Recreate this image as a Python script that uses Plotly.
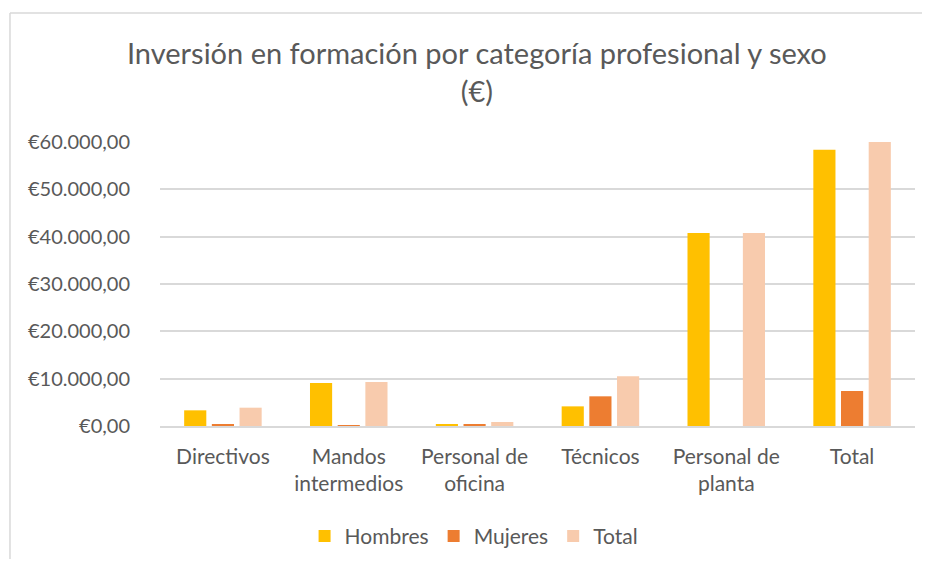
import plotly.graph_objects as go

# Data
categorias = ["Directivos", "Mandos<br>intermedios", "Personal de<br>oficina",
              "Técnicos", "Personal de<br>planta", "Total"]
hombres = [3310, 9090, 350, 4150, 40780, 58380]
mujeres = [420, 200, 420, 6270, 0, 7390]
total = [3870, 9300, 850, 10490, 40780, 65770]

COLORS = {"Hombres": "#FFC000", "Mujeres": "#ED7D31", "Total": "#F8CBAD"}
FONT = "Lato, 'Open Sans', sans-serif"
GRAY_TXT = "#595959"
GRID = "#D9D9D9"

fig = go.Figure()
for name, values in [("Hombres", hombres), ("Mujeres", mujeres), ("Total", total)]:
    fig.add_trace(go.Bar(
        x=categorias,
        y=values,
        name=name,
        marker=dict(color=COLORS[name], line=dict(width=0)),
    ))

# Chart-area border: only the top and left edges are inside the picture
border = dict(type="line", xref="paper", yref="paper",
              line=dict(color=GRID, width=1.5), layer="below")
fig.add_shape(x0=-0.1987, x1=1.3, y0=1.454, y1=1.454, **border)
fig.add_shape(x0=-0.1987, x1=-0.1987, y0=-0.7, y1=1.454, **border)

# page body has an 8px margin, so the figure is sized to fit inside the window
fig.update_layout(
    width=914,
    height=551,
    margin=dict(l=152, r=7, t=134, b=133, autoexpand=False),
    paper_bgcolor="white",
    plot_bgcolor="white",
    separators=",.",
    barmode="group",
    bargap=0.34,
    bargroupgap=0.2,
    font=dict(family=FONT, color=GRAY_TXT, size=20),
    title=dict(
        text="Inversión en formación por categoría profesional y sexo<br>(€)",
        x=0.513, xanchor="center",
        y=0.898, yanchor="top",
        font=dict(family=FONT, size=29, color=GRAY_TXT),
    ),
    legend=dict(
        orientation="h",
        x=0.416, xanchor="center",
        y=-0.316, yanchor="top",
        font=dict(size=21, color=GRAY_TXT),
        itemwidth=30,
        traceorder="normal",
    ),
    showlegend=True,
)

fig.update_yaxes(
    range=[0, 60000],
    dtick=10000,
    tickprefix="€",
    tickformat=",.2f",
    showgrid=True,
    gridcolor=GRID,
    gridwidth=1.5,
    zeroline=False,
    showline=False,
    ticks="",
    ticklabelstandoff=29,
    tickfont=dict(size=20, color=GRAY_TXT),
)
fig.update_xaxes(
    showline=True,
    linecolor=GRID,
    linewidth=1.5,
    ticks="",
    tickfont=dict(size=21, color=GRAY_TXT),
    ticklabelstandoff=11,
)

fig.write_html("out.html")
